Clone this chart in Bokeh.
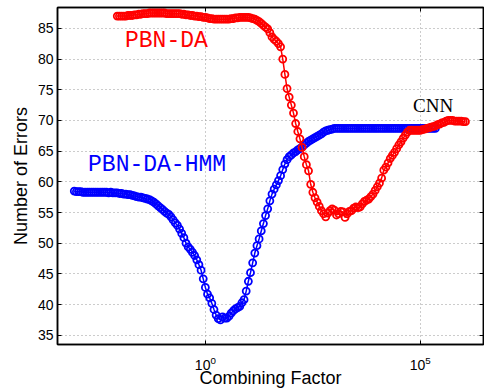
import numpy as np
from bokeh.plotting import figure
from bokeh.models import FixedTicker, LinearAxis, LogAxis, Label
from bokeh.embed import file_html
from bokeh.resources import INLINE

# log10 of the combining factor, and number of errors
hmm_log10_factor = [
    -3.05, -3.00, -2.95, -2.90, -2.85, -2.80, -2.75, -2.70, -2.65, -2.60,
    -2.55, -2.50, -2.45, -2.40, -2.35, -2.30, -2.25, -2.20, -2.15, -2.10,
    -2.05, -2.00, -1.95, -1.90, -1.85, -1.80, -1.75, -1.70, -1.65, -1.60,
    -1.55, -1.50, -1.45, -1.40, -1.35, -1.30, -1.25, -1.20, -1.15, -1.10,
    -1.05, -1.00, -0.95, -0.90, -0.85, -0.80, -0.75, -0.70, -0.65, -0.60,
    -0.55, -0.50, -0.45, -0.40, -0.35, -0.30, -0.25, -0.20, -0.15, -0.10,
    -0.05, 0.00, 0.05, 0.10, 0.15, 0.20, 0.25, 0.30, 0.35, 0.40,
    0.45, 0.50, 0.55, 0.60, 0.65, 0.70, 0.75, 0.80, 0.85, 0.90,
    0.95, 1.00, 1.05, 1.10, 1.15, 1.20, 1.25, 1.30, 1.35, 1.40,
    1.45, 1.50, 1.55, 1.60, 1.65, 1.70, 1.75, 1.80, 1.85, 1.90,
    1.95, 2.00, 2.05, 2.10, 2.15, 2.20, 2.25, 2.30, 2.35, 2.40,
    2.45, 2.50, 2.55, 2.60, 2.65, 2.70, 2.75, 2.80, 2.85, 2.90,
    2.95, 3.00, 3.05, 3.10, 3.15, 3.20, 3.25, 3.30, 3.35, 3.40,
    3.45, 3.50, 3.55, 3.60, 3.65, 3.70, 3.75, 3.80, 3.85, 3.90,
    3.95, 4.00, 4.05, 4.10, 4.15, 4.20, 4.25, 4.30, 4.35, 4.40,
    4.45, 4.50, 4.55, 4.60, 4.65, 4.70, 4.75, 4.80, 4.85, 4.90,
    4.95, 5.00, 5.05, 5.10, 5.15, 5.20, 5.25, 5.30, 5.35,
]
hmm_errors = [
    58.5, 58.4, 58.4, 58.4, 58.3, 58.3, 58.3, 58.3, 58.3, 58.3,
    58.3, 58.3, 58.3, 58.3, 58.3, 58.3, 58.2, 58.3, 58.2, 58.2,
    58.2, 58.1, 58.1, 58.0, 58.0, 57.9, 57.9, 57.8, 57.7, 57.6,
    57.5, 57.5, 57.4, 57.3, 57.2, 57.1, 56.9, 56.7, 56.4, 56.1,
    55.8, 55.5, 55.2, 54.9, 54.7, 54.3, 53.8, 53.3, 52.9, 52.3,
    51.6, 50.9, 50.0, 49.4, 49.0, 48.5, 48.0, 47.3, 46.5, 45.6,
    44.2, 42.8, 41.7, 41.1, 40.2, 39.2, 38.3, 37.7, 37.5, 38.0,
    37.8, 37.8, 38.1, 38.6, 39.0, 39.3, 39.5, 39.7, 40.3, 40.8,
    42.2, 43.8, 45.2, 46.8, 48.4, 49.6, 50.7, 52.0, 53.2, 54.5,
    55.6, 56.9, 58.0, 58.8, 59.5, 60.2, 61.0, 62.0, 62.9, 63.6,
    64.1, 64.4, 64.7, 64.9, 65.2, 65.4, 65.7, 66.0, 66.3, 66.6,
    66.8, 67.0, 67.2, 67.4, 67.6, 67.8, 68.1, 68.3, 68.4, 68.5,
    68.6, 68.7, 68.7, 68.7, 68.7, 68.7, 68.7, 68.7, 68.7, 68.7,
    68.7, 68.7, 68.7, 68.7, 68.7, 68.7, 68.7, 68.7, 68.7, 68.7,
    68.7, 68.7, 68.7, 68.7, 68.7, 68.7, 68.7, 68.7, 68.7, 68.7,
    68.7, 68.7, 68.7, 68.7, 68.7, 68.7, 68.7, 68.7, 68.7, 68.7,
    68.7, 68.7, 68.7, 68.7, 68.7, 68.7, 68.7, 68.7, 68.7,
]

da_log10_factor = [
    -2.05, -2.00, -1.95, -1.90, -1.85, -1.80, -1.75, -1.70, -1.65, -1.60,
    -1.55, -1.50, -1.45, -1.40, -1.35, -1.30, -1.25, -1.20, -1.15, -1.10,
    -1.05, -1.00, -0.95, -0.90, -0.85, -0.80, -0.75, -0.70, -0.65, -0.60,
    -0.55, -0.50, -0.45, -0.40, -0.35, -0.30, -0.25, -0.20, -0.15, -0.10,
    -0.05, 0.00, 0.05, 0.10, 0.15, 0.20, 0.25, 0.30, 0.35, 0.40,
    0.45, 0.50, 0.55, 0.60, 0.65, 0.70, 0.75, 0.80, 0.85, 0.90,
    0.95, 1.00, 1.05, 1.10, 1.15, 1.20, 1.25, 1.30, 1.35, 1.40,
    1.45, 1.50, 1.55, 1.60, 1.65, 1.70, 1.75, 1.80, 1.85, 1.90,
    1.95, 2.00, 2.05, 2.10, 2.15, 2.20, 2.25, 2.30, 2.35, 2.40,
    2.45, 2.50, 2.55, 2.60, 2.65, 2.70, 2.75, 2.80, 2.85, 2.90,
    2.95, 3.00, 3.05, 3.10, 3.15, 3.20, 3.25, 3.30, 3.35, 3.40,
    3.45, 3.50, 3.55, 3.60, 3.65, 3.70, 3.75, 3.80, 3.85, 3.90,
    3.95, 4.00, 4.05, 4.10, 4.15, 4.20, 4.25, 4.30, 4.35, 4.40,
    4.45, 4.50, 4.55, 4.60, 4.65, 4.70, 4.75, 4.80, 4.85, 4.90,
    4.95, 5.00, 5.05, 5.10, 5.15, 5.20, 5.25, 5.30, 5.35, 5.40,
    5.45, 5.50, 5.55, 5.60, 5.65, 5.70, 5.75, 5.80, 5.85, 5.90,
    5.95, 6.00, 6.05,
]
da_errors = [
    87.0, 87.0, 87.0, 87.0, 87.0, 87.1, 87.1, 87.1, 87.2, 87.2,
    87.3, 87.3, 87.4, 87.4, 87.4, 87.5, 87.5, 87.5, 87.5, 87.5,
    87.5, 87.5, 87.5, 87.4, 87.4, 87.4, 87.4, 87.4, 87.4, 87.4,
    87.3, 87.3, 87.2, 87.2, 87.1, 87.1, 87.0, 87.0, 86.9, 86.9,
    86.8, 86.8, 86.7, 86.6, 86.6, 86.5, 86.5, 86.5, 86.5, 86.5,
    86.5, 86.5, 86.5, 86.6, 86.6, 86.7, 86.7, 86.8, 86.8, 86.8,
    86.8, 86.8, 86.7, 86.6, 86.5, 86.3, 86.1, 85.8, 85.5, 85.2,
    84.9, 84.3, 83.6, 83.2, 82.9, 82.5, 82.0, 80.0, 77.5, 75.2,
    73.8, 72.5, 71.2, 69.5, 68.2, 67.0, 65.6, 64.1, 62.8, 61.8,
    59.6, 58.3, 57.4, 56.7, 56.0, 55.3, 54.8, 54.3, 54.9, 55.3,
    55.6, 55.4, 54.6, 54.8, 55.2, 55.1, 54.2, 54.8, 55.2, 55.3,
    55.7, 55.9, 55.8, 55.9, 56.4, 56.8, 57.0, 57.2, 57.6, 58.0,
    58.6, 59.2, 59.8, 60.6, 61.9, 62.4, 63.1, 63.8, 64.3, 64.8,
    65.4, 66.0, 66.5, 67.1, 67.6, 68.1, 68.4, 68.4, 68.4, 68.4,
    68.4, 68.4, 68.5, 68.6, 68.7, 68.8, 68.9, 69.0, 69.1, 69.3,
    69.4, 69.6, 69.7, 69.9, 70.0, 70.0, 70.0, 69.9, 69.9, 69.9,
    69.9, 69.8, 69.8,
]

y_ticks = [35, 40, 45, 50, 55, 60, 65, 70, 75, 80, 85]
x_ticks = [1, 100000]

hmm_x = 10.0 ** np.array(hmm_log10_factor)
da_x = 10.0 ** np.array(da_log10_factor)

FONT = "Liberation Sans"

p = figure(width=484, height=390, x_axis_type="log",
           x_range=(10 ** -3.44, 10 ** 6.47), y_range=(33.5, 88.4),
           output_backend="svg", toolbar_location=None,
           min_border_left=57, min_border_right=1, min_border_top=7,
           min_border_bottom=40)

p.outline_line_color = "black"
p.outline_line_width = 1.5

p.xaxis.ticker = FixedTicker(ticks=x_ticks)
p.yaxis.ticker = FixedTicker(ticks=y_ticks)

for ax in (p.xaxis[0], p.yaxis[0]):
    ax.major_tick_in = 4
    ax.major_tick_out = 0
    ax.minor_tick_line_color = None
    ax.axis_line_width = 1.5
    ax.major_tick_line_width = 1
    ax.major_label_text_font = FONT
    ax.major_label_text_font_size = "14px"
    ax.major_label_text_color = "black"
    ax.axis_label_text_font = FONT
    ax.axis_label_text_font_size = "18px"
    ax.axis_label_text_font_style = "normal"
    ax.axis_label_text_color = "black"

p.xaxis.axis_label = "Combining Factor"
p.yaxis.axis_label = "Number of Errors"
p.yaxis.major_label_standoff = 4
p.yaxis.axis_label_standoff = 4
p.xaxis.major_label_standoff = 11
p.xaxis.axis_label_standoff = -5

right = LinearAxis(ticker=FixedTicker(ticks=y_ticks), major_tick_in=4, major_tick_out=0,
                   minor_tick_line_color=None, major_label_text_font_size="1px",
                   major_label_text_color=None,
                   major_label_standoff=0, axis_line_width=1.5)
top = LogAxis(ticker=FixedTicker(ticks=x_ticks), major_tick_in=4, major_tick_out=0,
              minor_tick_line_color=None, major_label_text_font_size="1px",
              major_label_text_color=None,
              major_label_standoff=0, axis_line_width=1.5)
p.add_layout(right, "right")
p.add_layout(top, "above")

for g in (p.xgrid[0], p.ygrid[0]):
    g.grid_line_color = "#999999"
    g.grid_line_dash = "1 3"
    g.grid_line_width = 1

p.line(hmm_x, hmm_errors, line_color="#0000ff", line_width=1.5)
p.scatter(hmm_x, hmm_errors, marker="circle", size=7, fill_color=None,
          line_color="#0000ff", line_width=1.8)
p.line(da_x, da_errors, line_color="#ff0000", line_width=1.5)
p.scatter(da_x, da_errors, marker="circle", size=7, fill_color=None,
          line_color="#ff0000", line_width=1.8)

p.add_layout(Label(x=10 ** -1.87, y=82.9, text="PBN-DA", text_color="#ff0000",
                   text_font="Liberation Mono", text_font_size="23px",
                   text_baseline="alphabetic"))
p.add_layout(Label(x=10 ** -2.73, y=62.7, text="PBN-DA-HMM", text_color="#0000ff",
                   text_font="Liberation Mono", text_font_size="23px",
                   text_baseline="alphabetic"))
p.add_layout(Label(x=10 ** 4.83, y=72.4, text="CNN", text_color="black",
                   text_font="Liberation Serif", text_font_size="19px",
                   text_baseline="alphabetic"))

open("out.html", "w").write(file_html(p, INLINE))
